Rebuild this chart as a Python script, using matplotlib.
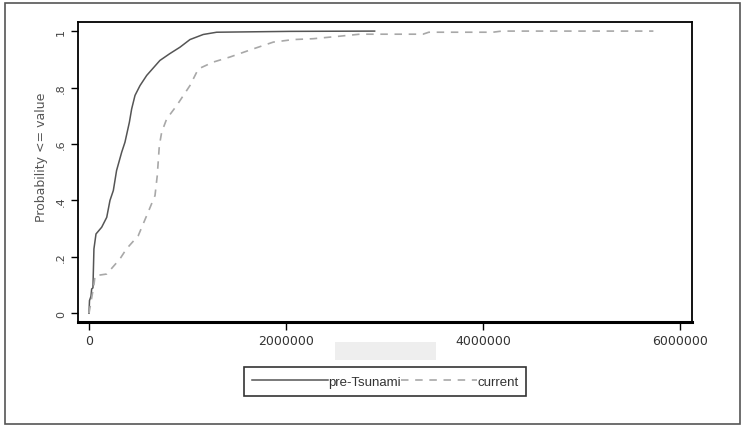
import matplotlib
matplotlib.use('Agg')
import matplotlib.pyplot as plt
from matplotlib.patches import Rectangle
from matplotlib.lines import Line2D

# ---- data ----
pre_x = [0, 0.005e6, 0.02e6, 0.027e6, 0.04e6, 0.05e6, 0.071e6, 0.129e6, 0.18e6,
         0.213e6, 0.247e6, 0.28e6, 0.332e6, 0.365e6, 0.41e6, 0.433e6, 0.467e6,
         0.518e6, 0.586e6, 0.72e6, 0.82e6, 0.924e6, 1.025e6, 1.16e6, 1.296e6,
         2.04e6, 2.9e6]
pre_y = [0, 0.045, 0.06, 0.086, 0.09, 0.228, 0.281, 0.305, 0.34, 0.40, 0.435,
         0.506, 0.571, 0.606, 0.677, 0.724, 0.772, 0.807, 0.843, 0.896, 0.92,
         0.943, 0.97, 0.988, 0.996, 0.999, 1.0]

cur_x = [0.0, 0.05e6, 0.061e6, 0.18e6, 0.315e6, 0.38e6, 0.50e6, 0.60e6, 0.67e6,
         0.693e6, 0.714e6, 0.738e6, 0.789e6, 0.89e6, 1.025e6, 1.11e6, 1.26e6,
         1.43e6, 1.668e6, 1.871e6, 2.074e6, 2.277e6, 2.548e6, 2.75e6, 3.39e6,
         3.45e6, 4.1e6, 4.19e6, 5.73e6]
cur_y = [0.0, 0.10, 0.133, 0.139, 0.193, 0.228, 0.275, 0.358, 0.417, 0.488,
         0.594, 0.642, 0.689, 0.736, 0.807, 0.866, 0.89, 0.908, 0.937, 0.961,
         0.970, 0.973, 0.982, 0.989, 0.989, 0.996, 0.996, 1.0, 1.0]

series_labels = ["pre-Tsunami", "current"]
x_ticks = [0, 2000000, 4000000, 6000000]
x_ticklabels = ["0", "2000000", "4000000", "6000000"]
y_ticks = [0, 0.2, 0.4, 0.6, 0.8, 1.0]
y_ticklabels = ["0", ".2", ".4", ".6", ".8", "1"]
y_label = "Probability <= value"

W, H = 742, 427
fig = plt.figure(figsize=(W / 100, H / 100), dpi=100)

# outer border
fig.patches.append(Rectangle((5 / W, 1 - 425 / H), 735 / W, 421 / H,
                             transform=fig.transFigure, fill=False,
                             edgecolor='#555555', linewidth=1.2))
# light gray box under axis
fig.patches.append(Rectangle((335 / W, 1 - 361 / H), 101 / W, 18 / H,
                             transform=fig.transFigure, facecolor='#eeeeee',
                             edgecolor='none'))

ax = fig.add_axes([78 / W, 1 - 323 / H, 614 / W, 300.5 / H])
ax.plot(pre_x, pre_y, color='#555555', lw=1.1, label=series_labels[0])
ln, = ax.plot(cur_x, cur_y, color='#a8a8a8', lw=1.2, label=series_labels[1])
ln.set_dashes((4.5, 4))

ax.set_xlim(-0.1117e6, 6.122e6)
ax.set_ylim(-0.031, 1.034)

ax.set_xticks(x_ticks)
ax.set_xticklabels(x_ticklabels, fontfamily='DejaVu Sans', fontsize=9, color='#333333')
ax.set_yticks(y_ticks)
ax.set_yticklabels(y_ticklabels, rotation=90, va='center', fontsize=8, color='#444444')
ax.tick_params(axis='x', direction='out', length=6, width=1.0, pad=3)
ax.tick_params(axis='y', direction='out', length=5, width=1.0, pad=3.5)

for s in ax.spines.values():
    s.set_linewidth(1.3)
    s.set_color('black')
ax.spines['bottom'].set_linewidth(2.2)

fig.text(42 / W, 1 - 157 / H, y_label, rotation=90, ha='center', va='center',
         fontsize=9, color='#555555')

handles = [Line2D([], [], color='#555555', lw=1.1),
           Line2D([], [], color='#a8a8a8', lw=1.2, dashes=(4.5, 4))]
leg = ax.legend(handles, series_labels, ncol=2, loc='center',
                bbox_to_anchor=(385 / W, 1 - 382.5 / H),
                bbox_transform=fig.transFigure, frameon=True, fancybox=False,
                handlelength=5.8, handletextpad=0.0, columnspacing=0.0,
                borderpad=0.6, borderaxespad=0,
                prop={'family': 'Liberation Sans', 'size': 9.5})
leg.get_frame().set_edgecolor('black')
leg.get_frame().set_linewidth(1.2)
for t in leg.get_texts():
    t.set_color('#333333')

fig.savefig('out.png', dpi=100)
